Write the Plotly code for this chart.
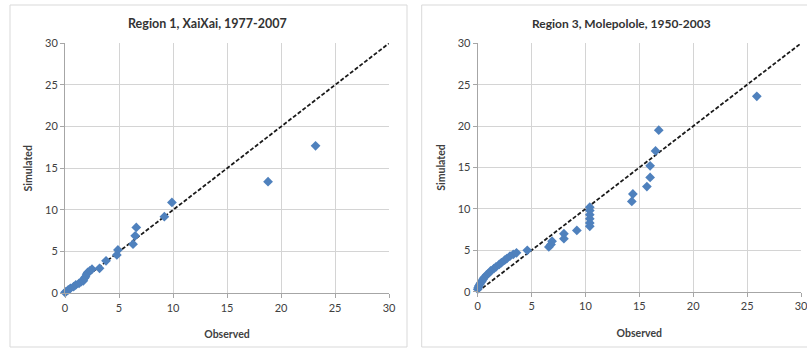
import plotly.graph_objects as go

# Region 1, XaiXai
obs1 = [0.0, 0.1, 0.3, 0.5, 0.8, 1.0, 1.3, 1.5, 1.7, 1.8, 1.9, 2.0, 2.1, 2.3, 2.5, 3.2, 3.8, 4.8, 4.9, 6.3, 6.5, 6.6, 9.2, 9.9, 18.8, 23.2]
sim1 = [0.1, 0.2, 0.4, 0.6, 0.8, 1.0, 1.2, 1.4, 1.5, 1.8, 2.0, 2.3, 2.5, 2.7, 2.9, 3.0, 3.9, 4.6, 5.2, 5.9, 6.9, 7.9, 9.2, 10.9, 13.4, 17.7]

# Region 3, Molepolole
obs3 = [0.0, 0.05, 0.1, 0.2, 0.3, 0.4, 0.5, 0.6, 0.8, 1.0, 1.2, 1.5, 1.7, 2.0, 2.2, 2.5, 2.7, 3.0, 3.3, 3.6,
        4.6, 6.6, 6.8, 6.9, 8.0, 8.0, 9.2,
        10.4, 10.4, 10.4, 10.4, 10.4, 10.4,
        14.3, 14.4, 15.7, 16.0, 16.0, 16.5, 16.8, 25.9]
sim3 = [0.3, 0.5, 0.7, 0.9, 1.1, 1.3, 1.5, 1.7, 2.0, 2.2, 2.5, 2.8, 3.0, 3.3, 3.5, 3.8, 4.0, 4.3, 4.5, 4.7,
        5.0, 5.4, 5.7, 6.1, 6.4, 7.0, 7.4,
        7.9, 8.3, 8.8, 9.3, 9.8, 10.2,
        10.9, 11.8, 12.7, 13.8, 15.2, 17.0, 19.5, 23.6]

line_x = [0, 30]
line_y = [0, 30]
ticks = [0, 5, 10, 15, 20, 25, 30]

titles = ["Region 1, XaiXai, 1977-2007", "Region 3, Molepolole, 1950-2003"]
x_title = "Observed"
y_title = "Simulated"

W, H = 807, 349
FONT = "Lato, 'Open Sans', Arial, sans-serif"
BLUE = "#4f81bd"

def px(x):
    return x / W

def py(y):
    return 1 - y / H

fig = go.Figure()

for i, (ox, sy) in enumerate([(obs1, sim1), (obs3, sim3)]):
    xa = "x" if i == 0 else "x2"
    ya = "y" if i == 0 else "y2"
    fig.add_trace(go.Scatter(x=line_x, y=line_y, mode="lines", xaxis=xa, yaxis=ya,
                             line=dict(color="#1a1a1a", width=1.8, dash="4px,2px"),
                             showlegend=False, hoverinfo="skip", cliponaxis=False))
    fig.add_trace(go.Scatter(x=ox, y=sy, mode="markers", xaxis=xa, yaxis=ya,
                             marker=dict(symbol="diamond", size=7.5, color=BLUE,
                                         line=dict(width=0)),
                             showlegend=False, cliponaxis=False))

axis_common = dict(range=[0, 30], tickvals=ticks, showgrid=True, gridcolor="#d4d4d4",
                   gridwidth=1, zeroline=False, showline=True, linecolor="#a6a6a6",
                   linewidth=1, ticks="outside", ticklen=4, tickcolor="#a6a6a6",
                   automargin=False, ticklabeloverflow="allow",
                   tickfont=dict(family=FONT, size=11, color="#404040"), fixedrange=True)

title_font = dict(family=FONT, size=10.5, color="#404040")

fig.update_layout(
    width=W, height=H,
    margin=dict(l=0, r=0, t=0, b=0, autoexpand=False),
    paper_bgcolor="white", plot_bgcolor="white",
    xaxis=dict(domain=[px(65), px(389)], anchor="y",
               title=dict(text=f"<b>{x_title}</b>", font=title_font, standoff=18),
               **axis_common),
    yaxis=dict(domain=[py(293.3), py(43.3)], anchor="x",
               title=dict(text=f"<b>{y_title}</b>", font=title_font, standoff=10),
               **axis_common),
    xaxis2=dict(domain=[px(477.7), px(801)], anchor="y2",
                title=dict(text=f"<b>{x_title}</b>", font=title_font, standoff=18),
                **axis_common),
    yaxis2=dict(domain=[py(291.7), py(43.3)], anchor="x2",
                title=dict(text=f"<b>{y_title}</b>", font=title_font, standoff=10),
                **axis_common),
    shapes=[
        dict(type="rect", xref="paper", yref="paper", x0=px(10), x1=px(407), y0=py(347), y1=py(5),
             line=dict(color="#d9d9d9", width=1), layer="below"),
        dict(type="rect", xref="paper", yref="paper", x0=px(421.7), x1=px(812), y0=py(347), y1=py(5),
             line=dict(color="#d9d9d9", width=1), layer="below"),
    ],
    annotations=[
        dict(text=f"<b>{titles[0]}</b>", xref="paper", yref="paper", x=px(208), y=py(24),
             showarrow=False, xanchor="center", yanchor="middle",
             font=dict(family=FONT, size=12.5, color="#333333")),
        dict(text=f"<b>{titles[1]}</b>", xref="paper", yref="paper", x=px(621), y=py(24),
             showarrow=False, xanchor="center", yanchor="middle",
             font=dict(family=FONT, size=12, color="#333333")),
    ],
)

fig.write_html("out.html")
